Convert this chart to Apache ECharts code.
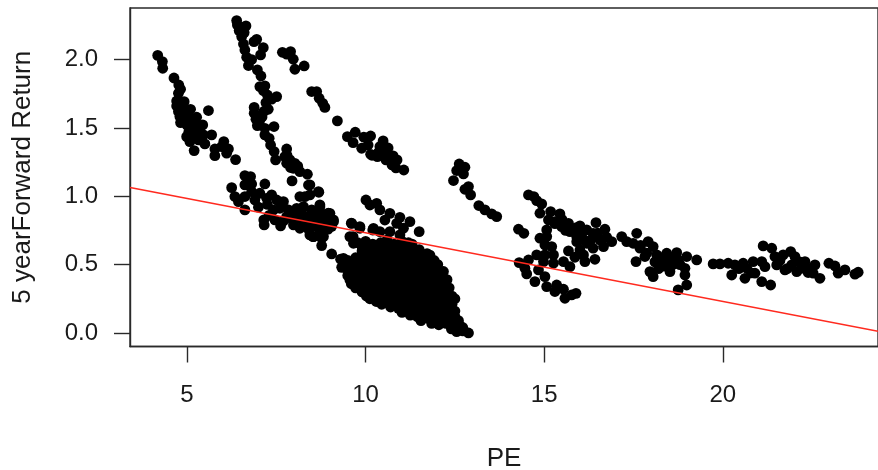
<!DOCTYPE html>
<html><head><meta charset="utf-8">
<style>html,body{margin:0;padding:0;background:#fff}#c{width:878px;height:470px}</style>
<script src="https://cdn.jsdelivr.net/npm/echarts@6/dist/echarts.min.js"></script>
</head><body><div id="c"></div>
<script>
const xTicks = [5,10,15,20];
const yTicks = [0,0.5,1,1.5,2];
const leftStrand = [[4.18,2.03],[4.31,1.985],[4.32,1.936],[4.635,1.865],[4.77,1.814],[4.82,1.783],[4.76,1.753],[4.71,1.697],[4.92,1.692],[4.71,1.66],[5.10,1.636],[5.60,1.627],[4.76,1.62],[4.94,1.63],[4.80,1.583],[4.99,1.595],[5.27,1.578],[4.82,1.539],[5.04,1.546],[5.22,1.534],[5.44,1.522],[5.13,1.497],[5.36,1.48],[4.99,1.436],[5.22,1.436],[5.46,1.449],[5.69,1.449],[5.08,1.40],[5.32,1.412],[5.50,1.383],[5.20,1.334],[6.03,1.40],[5.78,1.346],[5.97,1.363],[6.16,1.346],[5.78,1.297],[6.11,1.315],[6.36,1.268],[4.85,1.64],[4.9,1.56],[5.1,1.57],[5.15,1.54],[5.05,1.47],[5.28,1.47],[5.15,1.45],[5.4,1.44],[4.87,1.6],[5.0,1.52]];
const steepStrand = [[6.39,2.285],[6.41,2.253],[6.65,2.246],[6.46,2.212],[6.60,2.197],[6.53,2.168],[6.95,2.148],[6.875,2.131],[6.58,2.114],[7.135,2.087],[6.62,2.07],[7.06,2.034],[6.67,2.017],[6.81,2.0],[6.72,1.956],[6.97,1.924],[7.07,1.88],[7.04,1.802],[7.18,1.807],[7.14,1.773],[7.25,1.741],[7.51,1.729],[7.37,1.71],[7.21,1.685],[6.88,1.65],[7.275,1.636],[7.15,1.62],[6.88,1.607],[6.93,1.563],[6.97,1.517],[7.435,1.51],[7.18,1.497],[7.18,1.449],[7.30,1.424],[7.34,1.375],[7.44,1.327],[7.48,1.266],[7.79,1.346],[7.74,1.29],[7.79,1.241],[7.88,1.266],[8.02,1.241],[7.975,1.205],[8.16,1.18],[8.37,1.161],[7.94,1.112],[8.44,1.083],[8.69,1.029],[8.44,1.01],[8.16,0.998],[7.03,1.55],[7.1,1.58],[6.95,1.59],[7.8,1.3],[7.9,1.21],[8.1,1.22]];
const upperStrand = [[7.67,2.053],[7.79,2.04],[7.90,2.058],[7.975,2.002],[8.02,1.929],[8.28,1.953],[8.49,1.766],[8.63,1.766],[8.70,1.717],[8.80,1.68],[8.86,1.65],[9.21,1.551],[9.49,1.436],[9.71,1.468],[9.65,1.392],[9.89,1.351],[9.95,1.432],[10.14,1.441],[10.07,1.375],[10.14,1.307],[10.33,1.29],[10.40,1.363],[10.49,1.405],[10.63,1.353],[10.35,1.317],[10.18,1.30],[10.57,1.266],[10.74,1.229],[10.88,1.266],[10.85,1.207],[11.07,1.192],[10.54,1.324],[10.77,1.295]];
const lowerBand = [[6.25,1.063],[6.62,1.151],[6.78,1.144],[6.62,1.083],[6.81,1.09],[7.18,1.09],[6.34,0.998],[6.44,0.961],[6.62,0.90],[6.62,0.998],[6.90,0.973],[6.81,1.034],[7.04,1.022],[7.23,0.985],[7.37,1.01],[7.51,0.973],[7.70,0.961],[7.42,0.90],[7.60,0.912],[7.84,0.90],[8.07,0.912],[8.26,0.924],[8.49,0.90],[8.72,0.937],[8.955,0.876],[9.10,0.827],[8.82,0.851],[8.58,0.851],[8.35,0.851],[8.07,0.839],[7.79,0.851],[7.46,0.827],[7.15,0.827],[7.16,0.79],[7.62,0.783],[7.98,0.79],[8.16,0.766],[8.49,0.803],[8.72,0.79],[8.53,0.705],[8.77,0.693],[9.60,0.803],[9.84,0.766],[9.65,0.705],[10.2,0.753],[8.40,1.082],[8.68,1.034],[8.30,0.997],[8.72,0.924],[9.0,0.875],[8.54,0.887],[9.10,0.814],[8.91,0.802],[8.44,0.717],[8.72,0.753],[8.77,0.639],[8.54,0.705],[8.82,0.705],[8.26,0.79],[8.63,0.826],[9.05,0.578],[9.38,0.546],[9.33,0.48],[9.56,0.388],[9.61,0.802],[9.84,0.778],[9.56,0.705],[9.66,0.656],[10.01,0.973],[10.12,0.936],[10.31,0.948],[10.40,0.90],[10.68,0.875],[10.54,0.826],[10.96,0.846],[10.87,0.802],[11.24,0.814],[11.06,0.766],[10.22,0.765],[10.40,0.741],[11.50,0.741],[10.96,0.717],[10.68,0.741],[7.0,0.92],[7.25,0.94],[7.9,0.86],[8.2,0.88],[8.35,0.8],[8.6,0.78],[8.9,0.87],[8.05,0.86],[8.65,0.89],[8.95,0.76],[8.4,0.76],[7.3,0.86],[7.7,0.82],[7.95,0.83],[8.25,0.83],[8.8,0.83],[9.05,0.78],[8.45,0.84]];
const denseBlobTop = [[9.78,0.66],[10.0,0.67],[10.2,0.65],[10.42,0.66],[10.6,0.68],[10.8,0.65],[11.02,0.67],[11.2,0.66],[11.3,0.65],[9.9,0.60],[10.1,0.61],[10.3,0.59],[10.52,0.60],[10.7,0.62],[10.92,0.59],[11.1,0.61],[11.32,0.60],[11.5,0.61],[11.72,0.58],[9.3,0.54],[9.5,0.53],[9.72,0.55],[9.92,0.54],[10.1,0.53],[10.32,0.55],[10.5,0.54],[10.72,0.53],[10.9,0.55],[11.12,0.54],[11.3,0.53],[11.52,0.55],[11.7,0.54],[11.92,0.53],[12.02,0.50],[9.42,0.48],[9.6,0.47],[9.82,0.49],[10.0,0.48],[10.22,0.47],[10.4,0.49],[10.62,0.48],[10.8,0.47],[11.02,0.49],[11.2,0.48],[11.42,0.47],[11.6,0.49],[11.82,0.48],[12.0,0.47],[12.18,0.45]];
const denseBlobMid = [[9.5,0.42],[9.7,0.43],[9.9,0.41],[10.12,0.42],[10.3,0.43],[10.52,0.41],[10.7,0.42],[10.92,0.43],[11.1,0.41],[11.32,0.42],[11.5,0.43],[11.72,0.41],[11.9,0.42],[12.12,0.41],[12.28,0.39],[9.6,0.36],[9.8,0.35],[10.0,0.37],[10.2,0.36],[10.42,0.35],[10.6,0.37],[10.82,0.36],[11.0,0.35],[11.22,0.37],[11.4,0.36],[11.62,0.35],[11.8,0.37],[12.02,0.36],[12.2,0.35],[12.34,0.33],[9.9,0.30],[10.12,0.29],[10.3,0.31],[10.52,0.30],[10.7,0.29],[10.9,0.31],[11.1,0.30],[11.32,0.29],[11.5,0.31],[11.72,0.30],[11.9,0.29],[12.1,0.31],[12.3,0.29],[12.5,0.25],[10.12,0.25],[10.3,0.23],[10.5,0.24],[10.72,0.25],[10.9,0.23],[11.1,0.24],[11.3,0.25],[11.52,0.23],[11.7,0.24],[11.9,0.25],[12.12,0.23],[12.32,0.24]];
const denseBlobBottom = [[10.7,0.19],[10.92,0.18],[11.12,0.19],[11.3,0.17],[11.5,0.18],[11.72,0.19],[11.92,0.17],[12.1,0.18],[12.3,0.17],[12.5,0.16],[11.25,0.13],[11.45,0.12],[11.7,0.13],[11.9,0.11],[12.1,0.12],[12.3,0.11],[12.5,0.12],[12.6,0.09],[11.85,0.07],[12.05,0.06],[12.25,0.07],[12.45,0.05],[12.62,0.06],[12.72,0.04],[12.4,0.03],[12.55,0.01],[12.72,0.015],[12.88,0.0]];
const denseBlobFill = [[9.9,0.63],[10.1,0.64],[10.32,0.62],[10.5,0.63],[10.72,0.64],[10.9,0.62],[11.12,0.63],[10.0,0.57],[10.22,0.58],[10.4,0.56],[10.62,0.57],[10.8,0.58],[11.0,0.56],[11.22,0.57],[11.4,0.58],[11.62,0.56],[11.8,0.57],[9.4,0.51],[9.62,0.50],[9.8,0.52],[10.02,0.51],[10.2,0.50],[10.42,0.52],[10.6,0.51],[10.82,0.50],[11.0,0.52],[11.22,0.51],[11.4,0.50],[11.62,0.52],[11.8,0.51],[12.0,0.50],[9.52,0.45],[9.72,0.46],[9.9,0.44],[10.1,0.45],[10.32,0.46],[10.5,0.44],[10.72,0.45],[10.9,0.46],[11.12,0.44],[11.3,0.45],[11.52,0.46],[11.7,0.44],[11.92,0.45],[12.1,0.44],[9.62,0.39],[9.8,0.38],[10.02,0.40],[10.2,0.39],[10.42,0.38],[10.6,0.40],[10.8,0.39],[11.02,0.38],[11.2,0.40],[11.42,0.39],[11.6,0.38],[11.82,0.40],[12.0,0.39],[12.2,0.38],[9.72,0.33],[9.98,0.34],[10.22,0.32],[10.4,0.33],[10.6,0.34],[10.82,0.32],[11.0,0.33],[11.2,0.34],[11.42,0.32],[11.6,0.33],[11.82,0.34],[12.0,0.32],[12.2,0.33],[10.02,0.27],[10.22,0.28],[10.42,0.26],[10.6,0.27],[10.8,0.28],[11.0,0.26],[11.22,0.27],[11.4,0.28],[11.6,0.26],[11.82,0.27],[12.0,0.28],[12.2,0.26],[12.42,0.27],[10.45,0.21],[10.62,0.22],[10.82,0.20],[11.02,0.21],[11.2,0.22],[11.42,0.20],[11.6,0.21],[11.8,0.22],[12.02,0.20],[12.22,0.21],[12.42,0.21],[11.02,0.15],[11.2,0.16],[11.4,0.14],[11.6,0.15],[11.8,0.16],[12.0,0.14],[12.2,0.15],[12.4,0.14],[11.55,0.09],[11.8,0.10],[12.0,0.09],[12.2,0.08],[12.4,0.09],[12.55,0.08]];
const midStrand = [[12.62,1.236],[12.78,1.212],[12.55,1.188],[12.74,1.163],[12.46,1.115],[12.88,1.071],[12.78,1.051],[12.94,1.01],[13.17,0.932],[13.34,0.90],[13.53,0.871],[13.67,0.851],[14.28,0.759],[14.43,0.729]];
const rightUpper = [[14.56,1.01],[14.71,0.998],[14.79,0.968],[14.93,0.944],[14.88,0.876],[15.18,0.888],[15.44,0.871],[15.12,0.827],[15.30,0.815],[15.68,0.802],[15.49,0.778],[15.07,0.754],[15.72,0.741],[16.0,0.783],[16.45,0.807],[16.19,0.754],[16.70,0.759],[15.91,0.705],[16.37,0.729],[16.56,0.681],[14.88,0.693],[15.07,0.705],[15.21,0.632],[15.02,0.644],[15.68,0.60],[16.0,0.607],[16.37,0.62],[16.66,0.632],[16.89,0.668],[17.17,0.705],[16.19,0.656],[15.91,0.668],[17.31,0.668],[17.59,0.729],[17.49,0.656],[17.68,0.62],[17.91,0.668],[18.05,0.632],[17.87,0.583],[15.3,0.8],[15.6,0.75],[15.85,0.74],[16.05,0.72],[16.3,0.68],[16.5,0.73],[16.75,0.7],[16.1,0.68],[15.5,0.83],[15.9,0.77],[17.7,0.64]];
const rightLower = [[14.79,0.571],[14.56,0.534],[14.30,0.515],[15.02,0.571],[15.26,0.571],[14.98,0.522],[15.26,0.51],[15.54,0.522],[15.72,0.485],[15.86,0.554],[16.10,0.571],[16.14,0.522],[16.42,0.539],[14.46,0.473],[14.51,0.432],[14.84,0.461],[15.02,0.412],[14.74,0.376],[15.35,0.351],[15.07,0.339],[15.30,0.303],[15.54,0.32],[15.58,0.254],[15.77,0.278],[15.89,0.29]];
const farRight = [[17.57,0.522],[17.96,0.449],[18.05,0.412],[17.82,0.559],[18.15,0.571],[18.43,0.583],[18.71,0.588],[18.99,0.559],[19.27,0.534],[18.24,0.51],[18.47,0.522],[18.75,0.534],[18.52,0.449],[18.94,0.473],[18.94,0.424],[18.99,0.351],[18.75,0.315],[19.73,0.505],[19.92,0.505],[20.15,0.51],[20.34,0.498],[20.57,0.51],[20.85,0.522],[21.09,0.522],[21.18,0.485],[20.67,0.473],[20.25,0.424],[20.62,0.40],[20.90,0.437],[21.09,0.376],[21.34,0.351],[21.13,0.637],[21.37,0.62],[21.46,0.559],[21.69,0.571],[21.90,0.595],[22.02,0.559],[21.51,0.498],[21.74,0.461],[21.93,0.498],[22.07,0.449],[22.30,0.522],[22.21,0.473],[22.58,0.498],[22.39,0.442],[22.53,0.437],[22.72,0.40],[22.97,0.51],[23.14,0.49],[23.23,0.437],[23.42,0.461],[23.70,0.43],[23.79,0.444],[18.3,0.55],[18.6,0.55],[18.1,0.52],[18.35,0.49],[18.6,0.5],[18.8,0.5],[18.2,0.47],[20.45,0.47],[20.8,0.44],[21.6,0.53],[21.8,0.47],[22.15,0.52],[22.45,0.47]];
const fitLine = [[3.404,1.064],[24.345,0.012]];
const points = [].concat(leftStrand,steepStrand,upperStrand,lowerBand,denseBlobTop,denseBlobMid,denseBlobBottom,denseBlobFill,midStrand,rightUpper,rightLower,farRight);

const ink = '#1a1a1a', font = 'Liberation Sans', fs = 24, nameFs = 26;
const chart = echarts.init(document.getElementById('c'),null,{renderer:'canvas'});
chart.setOption({
  animation:false,
  backgroundColor:'#fff',
  grid:{left:130,top:8,right:0,bottom:123.5,show:true,outerBoundsMode:'none',containLabel:false,borderColor:'#2a2a2a',borderWidth:1.4,backgroundColor:'transparent'},
  xAxis:{type:'value',min:3.404,max:24.345,name:'PE',nameLocation:'center',nameGap:99,
    nameTextStyle:{color:ink,fontFamily:font,fontSize:nameFs},
    splitLine:{show:false},
    axisLine:{show:true,onZero:false,lineStyle:{color:'#2a2a2a',width:1.4}},
    axisTick:{show:true,length:16,customValues:xTicks,lineStyle:{color:'#2a2a2a',width:1.4}},
    axisLabel:{color:ink,fontFamily:font,fontSize:fs,margin:37,customValues:xTicks,formatter:v=>String(v)}},
  yAxis:{type:'value',min:-0.099,max:2.377,name:'5 yearForward Return',nameLocation:'center',nameGap:94,nameRotate:90,
    nameTextStyle:{color:ink,fontFamily:font,fontSize:nameFs},
    splitLine:{show:false},
    axisLine:{show:true,onZero:false,lineStyle:{color:'#2a2a2a',width:1.4}},
    axisTick:{show:true,length:16,customValues:yTicks,lineStyle:{color:'#2a2a2a',width:1.4}},
    axisLabel:{color:ink,fontFamily:font,fontSize:fs,margin:32,customValues:yTicks,formatter:v=>v.toFixed(1)}},
  series:[
    {type:'scatter',data:points,symbol:'circle',symbolSize:10.8,itemStyle:{color:'#000',opacity:1},z:2,clip:false},
    {type:'line',data:fitLine,symbol:'none',lineStyle:{color:'#ff2a1f',width:1.6},z:3,clip:true}
  ]
});
</script></body></html>
